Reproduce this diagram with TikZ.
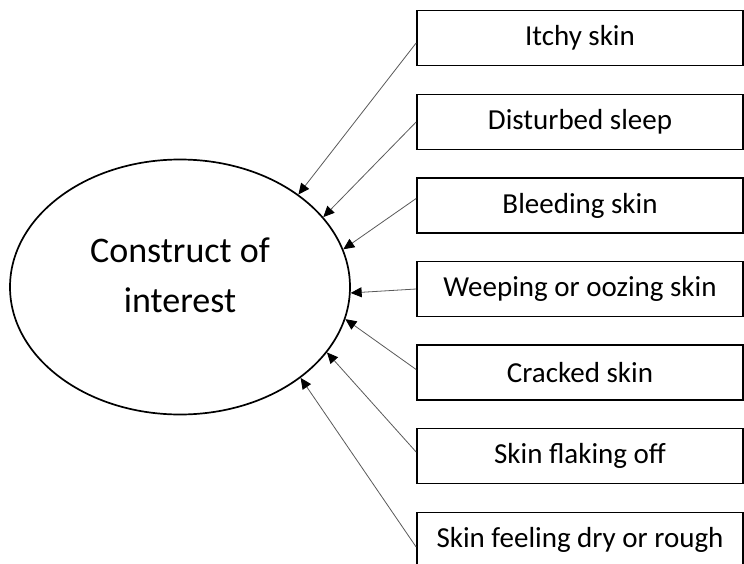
\documentclass[tikz,border=0pt]{standalone}
\usepackage{fontspec}
\setmainfont{Carlito}
\usetikzlibrary{shapes.geometric,arrows.meta}

\begin{document}
\begin{tikzpicture}[x=1pt, y=-1pt,
  symptom/.style={draw, line width=1.7pt, minimum width=326pt, minimum height=55pt, inner sep=0pt, font=\fontsize{29}{35}\selectfont},
  construct/.style={draw, ellipse, line width=1.7pt, minimum width=340pt, minimum height=255pt, inner sep=0pt, align=center, text depth=23pt, font=\fontsize{36}{50}\selectfont},
  loading/.style={line width=0.8pt, black!65, -{Triangle[length=11pt, width=10pt, black]}}]
% Set the page size
\useasboundingbox (0,0) rectangle (744,564);

% Draw the construct
\node[construct] (construct) at (180,287) {Construct of\\interest};

% Draw the symptom boxes (the last one runs off the page)
\node[symptom] (itchy) at (580,38) {Itchy skin};
\node[symptom] (sleep) at (580,122) {Disturbed sleep};
\node[symptom] (bleeding) at (580,205.5) {Bleeding skin};
\node[symptom] (weeping) at (580,289) {Weeping or oozing skin};
\node[symptom] (cracked) at (580,372.5) {Cracked skin};
\node[symptom] (flaking) at (580,456) {Skin flaking off};
\node[symptom] (dry) at (580,540) {Skin feeling dry or rough};

% Draw the arrows into the ellipse
\draw[loading] ([yshift=-5pt]itchy.west) -- (construct.38.8);
\draw[loading] (sleep.west) -- (construct.26.1);
\draw[loading] ([yshift=7pt]bleeding.west) -- (construct.13.6);
\draw[loading] (weeping.west) -- (construct.-2.4);
\draw[loading] ([yshift=3pt]cracked.west) -- (construct.-11.2);
\draw[loading] ([yshift=4pt]flaking.west) -- (construct.-24.6);
\draw[loading] ([yshift=-7pt]dry.west) -- (construct.-37.5);
\end{tikzpicture}
\end{document}
